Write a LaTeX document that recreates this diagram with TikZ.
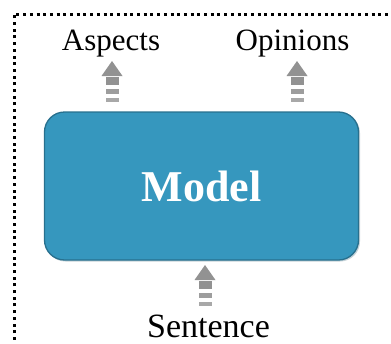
\documentclass[tikz,border=0pt]{standalone}
\usepackage{fontspec}
\setmainfont{Liberation Serif}
\usepackage{tikz}
\usetikzlibrary{positioning}

\definecolor{modelblue}{RGB}{54,151,190}
\definecolor{modeledge}{RGB}{40,112,142}
\definecolor{flowgray}{RGB}{146,146,146}

\begin{document}
\begin{tikzpicture}[
    x=1pt, y=-1pt,
    frame/.style={line width=3pt, dash pattern=on 3pt off 3.7pt},
    modelbox/.style={rectangle, rounded corners=20pt, fill=modelblue, draw=modeledge, line width=1.3pt,
        minimum width=314pt, minimum height=148pt, text=white,
        font=\bfseries\fontsize{44}{50}\selectfont},
    word/.style={inner sep=0pt, anchor=base, font=\fontsize{31}{36}\selectfont},
    upflow/.pic={
        % head
        \fill[flowgray] (0,0) -- (10.5,15) -- (-10.5,15) -- cycle;
        % broken tail
        \fill[flowgray] (-6.5,16) rectangle (6.5,24);
        \fill[flowgray!90] (-6.5,27.5) rectangle (6.5,32.5);
        \fill[flowgray!80] (-6.5,37) rectangle (6.5,41);
    }
]
\useasboundingbox (0,0) rectangle (391,343);

% Dotted frame, open to the right and bottom
\draw[frame] (14,360) -- (14,14) -- (400,14);

% Model block (with a faint drop shadow)
\fill[modeledge!70!black, opacity=0.25, rounded corners=20pt] (45.5,113) rectangle (360,261.5);
\node[modelbox] (model) at (201.5,186) {Model};

% Outputs
\node[word] (aspects) at (111,50) {Aspects};
\node[word] (opinions) at (292.5,50) {Opinions};

% Input
\node[word, font=\fontsize{34}{40}\selectfont] (sentence) at (208.5,337) {Sentence};

% Flow arrows
\pic at (112,61) {upflow};
\pic at (297,61) {upflow};
\pic at (205,265) {upflow};

\end{tikzpicture}
\end{document}
